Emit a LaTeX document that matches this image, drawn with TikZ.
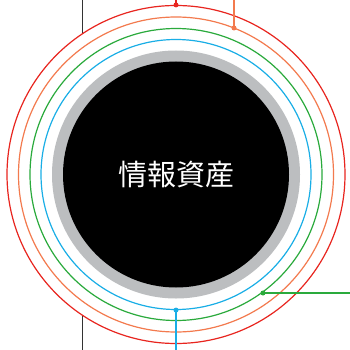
\documentclass[tikz,border=0pt]{standalone}
\usepackage{fontspec}
\newfontfamily\cjk{Noto Sans CJK JP}
\usetikzlibrary{positioning}
\usetikzlibrary{calc}

\definecolor{ringred}{HTML}{E8251F}
\definecolor{ringorange}{HTML}{F37A4E}
\definecolor{ringgreen}{HTML}{2AAA3C}
\definecolor{ringblue}{HTML}{19AEE6}
\definecolor{ringgray}{HTML}{BCBEC0}

\tikzset{
	ring/.style={draw, line width=1.2pt, circle, inner sep=0pt},
	dot/.style={circle, fill, inner sep=0pt, minimum size=5pt},
	lead/.style={line width=1.2pt}
}

\begin{document}
\begin{tikzpicture}[x=1pt, y=-1pt]
				\useasboundingbox (0, 0) rectangle (350, 350);
				\coordinate (c) at (176, 174.5);

				% frame line behind the rings
				\draw[color=black!80, line width=0.9pt] (82.7, 0) -- (82.7, 350);

				% rings
				\node[ring, ringred, fill=white, minimum size=338pt] (red) at (c) {};
				\node[ring, ringorange, minimum size=315pt] (orange) at (c) {};
				\node[ring, ringgreen, minimum size=292pt] (green) at (c) {};
				\node[ring, ringblue, minimum size=270pt] (blue) at (c) {};
				\node[circle, fill=ringgray, minimum size=248pt, inner sep=0pt] (shell) at (c) {};
				\node[circle, fill=black, minimum size=226pt, inner sep=0pt, text=white,
					font=\cjk\fontsize{29}{32}\selectfont] (asset) at (c) {情報資産};

				% markers
				\node[dot, ringred] (reddot) at (red.north) {};
				\node[dot, ringorange] (orangedot) at (234, 28) {};
				\node[dot, ringgreen] (greendot) at (263, 293) {};
				\node[dot, ringblue] (bluedot) at (blue.south) {};

				\coordinate (redend) at (176, 0);
				\coordinate (orangeend) at (234, 0);
				\coordinate (greenend) at (350, 293);
				\coordinate (blueend) at (176, 350);

				\draw[lead, ringred] (reddot.center) -- (redend);
				\draw[lead, ringorange] (orangedot.center) -- (orangeend);
				\draw[lead, ringgreen] (greendot.center) -- (greenend);
				\draw[lead, ringblue] (bluedot.center) -- (blueend);
			\end{tikzpicture}
\end{document}
